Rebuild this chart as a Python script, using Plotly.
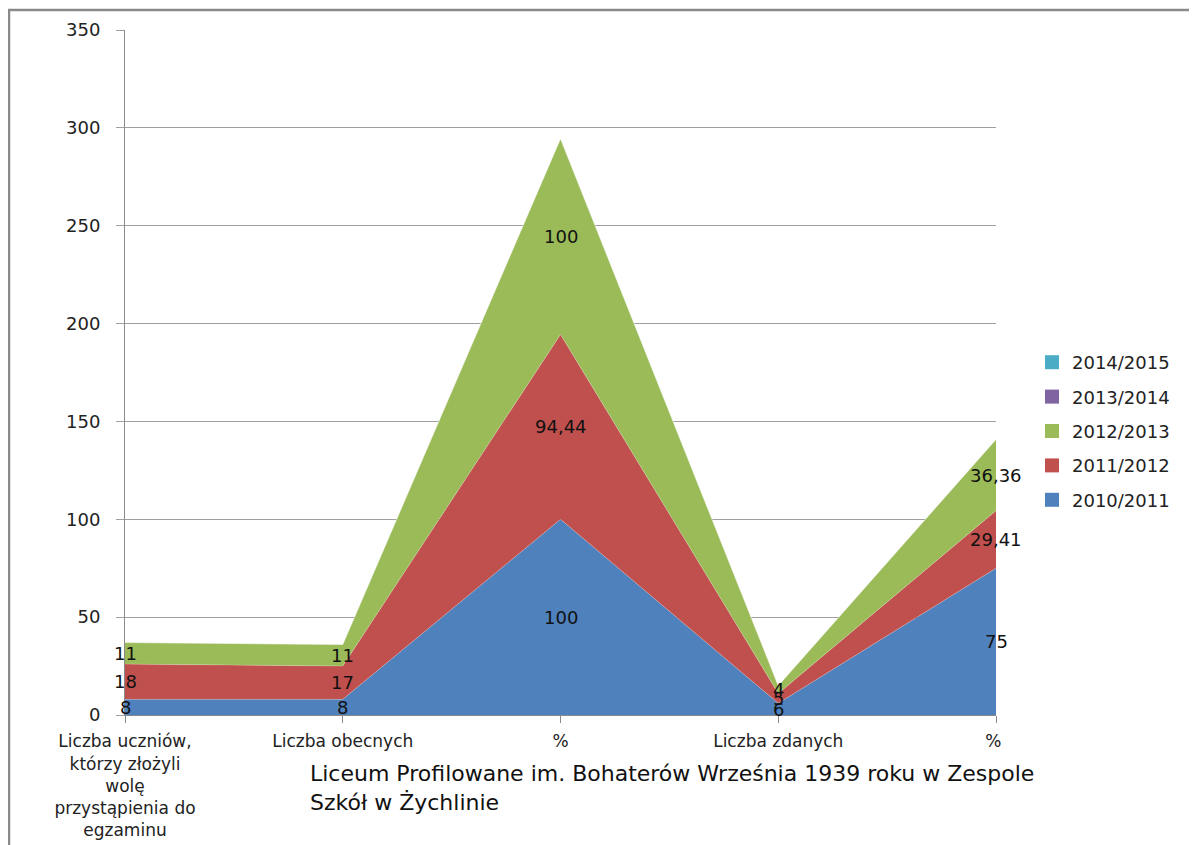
import plotly.graph_objects as go

categories = [
    "Liczba uczniów,<br>którzy złożyli<br>wolę<br>przystąpienia do<br>egzaminu",
    "Liczba obecnych",
    "%",
    "Liczba zdanych",
    "% ",
]
series_names = ["2010/2011", "2011/2012", "2012/2013", "2013/2014", "2014/2015"]
v_2010 = [8, 8, 100, 6, 75]
v_2011 = [18, 17, 94.44, 5, 29.41]
v_2012 = [11, 11, 100, 4, 36.36]
v_2013 = [0, 0, 0, 0, 0]
v_2014 = [0, 0, 0, 0, 0]
colors = ["#4F81BD", "#C0504D", "#9BBB59", "#8064A2", "#4BACC6"]
labelled = [True, True, True, False, False]
title_text = "Liceum Profilowane im. Bohaterów Września 1939 roku w Zespole<br>Szkół w Żychlinie"

FONT = "DejaVu Sans"
all_vals = [v_2010, v_2011, v_2012, v_2013, v_2014]
x_idx = list(range(len(categories)))

# page body has an 8px margin; plot area in figure pixels
L, T, R, B = 117, 22, 988, 707
PW, PH = R - L, B - T

fig = go.Figure()
for name, vals, col in zip(series_names, all_vals, colors):
    fig.add_trace(go.Scatter(
        x=x_idx, y=vals, name=name, mode="lines",
        stackgroup="one", line=dict(width=0.6, color="rgba(255,255,255,0.35)"),
        fillcolor=col, showlegend=False, hoverinfo="y+name",
    ))
# legend entries as squares (top to bottom: newest first)
for name, col in reversed(list(zip(series_names, colors))):
    fig.add_trace(go.Scatter(
        x=[None], y=[None], name=name, mode="markers",
        marker=dict(symbol="square", size=14, color=col),
        legendgroup=name, showlegend=True,
    ))

def fmt(v):
    return ("%g" % v).replace(".", ",")

base = [0] * len(categories)
for vals, lab in zip(all_vals, labelled):
    for j, v in enumerate(vals):
        if lab:
            fig.add_annotation(
                x=j, y=base[j] + v / 2, text=fmt(v), showarrow=False,
                font=dict(family=FONT, size=18, color="#111"),
                xanchor="center", yanchor="middle",
            )
        base[j] += v

fig.add_annotation(
    xref="paper", yref="paper", x=(300 - L) / PW, y=-(44) / PH,
    xanchor="left", yanchor="top", align="left", showarrow=False,
    text=title_text, font=dict(family=FONT, size=22, color="#111"),
)

fig.add_shape(type="rect", xref="paper", yref="paper",
              x0=(1 - L) / PW, x1=2, y0=-2, y1=(B - 2) / PH,
              line=dict(color="#8a8a8a", width=2.5), layer="below")

fig.update_layout(
    width=1197, height=845,
    margin=dict(l=L, r=1197 - R, t=T, b=845 - B, autoexpand=False),
    paper_bgcolor="white", plot_bgcolor="white",
    font=dict(family=FONT, size=18, color="#222"),
    showlegend=True,
    legend=dict(traceorder="grouped", x=(1024 - L) / PW, y=(B - 423) / PH,
                xanchor="left", yanchor="middle",
                font=dict(family=FONT, size=18, color="#222"), tracegroupgap=8,
                itemwidth=30, bgcolor="rgba(0,0,0,0)"),
    xaxis=dict(
        tickmode="array", tickvals=x_idx, ticktext=categories,
        range=[0, 4], showgrid=False, zeroline=False, automargin=False,
        showline=True, linecolor="#8a8a8a", linewidth=1,
        ticks="outside", ticklen=7, tickcolor="#8a8a8a",
        tickfont=dict(family=FONT, size=17, color="#222"),
        ticklabelstandoff=4,
    ),
    yaxis=dict(
        range=[0, 350], dtick=50, showgrid=True, gridcolor="#a0a0a0", gridwidth=1,
        zeroline=False, showline=True, linecolor="#8a8a8a", linewidth=1, automargin=False,
        ticks="outside", ticklen=8, tickcolor="#a0a0a0",
        tickfont=dict(family=FONT, size=18, color="#222"),
        ticklabelstandoff=12,
    ),
)

fig.write_html("out.html")
